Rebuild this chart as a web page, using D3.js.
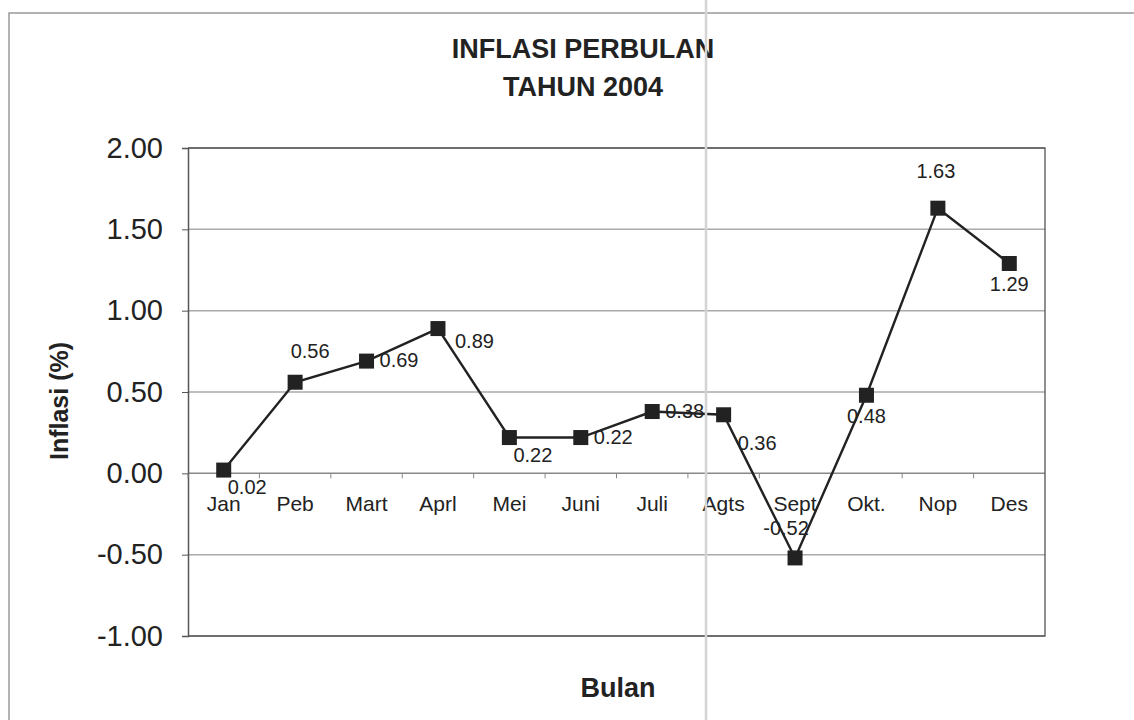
<!DOCTYPE html>
<html lang="id">
<head>
<meta charset="utf-8">
<title>Inflasi Perbulan Tahun 2004</title>
<script src="https://d3js.org/d3.v7.min.js"></script>
<style>
body { margin: 0; background: #fff; }
text { font-family: "Liberation Sans", Arial, sans-serif; fill: #222; }
</style>
</head>
<body>
<svg id="chart" width="1134" height="720"></svg>
<script>
// data
var months = ["Jan", "Peb", "Mart", "Aprl", "Mei", "Juni", "Juli", "Agts", "Sept", "Okt.", "Nop", "Des"];
var inflasi = [0.02, 0.56, 0.69, 0.89, 0.22, 0.22, 0.38, 0.36, -0.52, 0.48, 1.63, 1.29];
var yTicks = [-1.00, -0.50, 0.00, 0.50, 1.00, 1.50, 2.00];
var labelSide = ["belowRight", "aboveRight", "right", "lowRight", "belowRight", "right", "right", "farBelowRight", "aboveLeft", "below", "above", "below"];

var svg = d3.select("#chart");
var margin = {top: 148, right: 89, bottom: 84, left: 188};
var width = 1134 - margin.left - margin.right,
    height = 720 - margin.top - margin.bottom;

var fmt = function(d) { return d.toFixed(2); };

// outer chart frame (scanned page)
svg.append("path")
    .attr("d", "M9,720 L9,13 L1134,13")
    .attr("fill", "none")
    .attr("stroke", "#999")
    .attr("stroke-width", 1.5);

var g = svg.append("g")
    .attr("transform", "translate(" + margin.left + "," + margin.top + ")");

var x = d3.scalePoint()
    .domain(months)
    .range([0, width])
    .padding(0.5);

var y = d3.scaleLinear()
    .domain([-1, 2])
    .range([height, 0]);

// gridlines
g.selectAll(".grid")
    .data(yTicks)
    .enter().append("line")
    .attr("class", "grid")
    .attr("x1", 0)
    .attr("x2", width)
    .attr("y1", function(d) { return y(d); })
    .attr("y2", function(d) { return y(d); })
    .attr("stroke", function(d) { return d == 0 ? "#888" : "#aaa"; })
    .attr("stroke-width", 1.5);

// plot border
g.append("path")
    .attr("d", "M0,0 H" + width + " V" + height + " H0")
    .attr("fill", "none")
    .attr("stroke", "#555")
    .attr("stroke-width", 1.3);

// y axis
var yAxis = g.append("g")
    .call(d3.axisLeft(y).tickValues(yTicks).tickFormat(fmt).tickSize(6).tickPadding(19));
yAxis.select(".domain").attr("stroke", "#555").attr("stroke-width", 1.5);
yAxis.selectAll(".tick line").attr("stroke", "#555");
yAxis.selectAll("text")
    .style("font-size", "29px")
    .style("font-family", "Liberation Sans, Arial, sans-serif")
    .attr("fill", "#222");

// x axis sitting on zero, ticks between categories
var step = x.step();
g.selectAll(".xtick")
    .data(d3.range(months.length + 1))
    .enter().append("line")
    .attr("class", "xtick")
    .attr("x1", function(i) { return i * step; })
    .attr("x2", function(i) { return i * step; })
    .attr("y1", y(0))
    .attr("y2", y(0) + 5)
    .attr("stroke", "#888");

g.selectAll(".xlabel")
    .data(months)
    .enter().append("text")
    .attr("class", "xlabel")
    .attr("x", function(d) { return x(d); })
    .attr("y", y(0) + 38)
    .attr("text-anchor", "middle")
    .style("font-size", "21px")
    .text(function(d) { return d; });

// line and markers
var pts = months.map(function(m, i) { return {m: m, v: inflasi[i], side: labelSide[i]}; });

g.append("path")
    .datum(pts)
    .attr("fill", "none")
    .attr("stroke", "#222")
    .attr("stroke-width", 2.4)
    .attr("d", d3.line()
        .x(function(d) { return x(d.m); })
        .y(function(d) { return y(d.v); }));

g.selectAll(".marker")
    .data(pts)
    .enter().append("rect")
    .attr("class", "marker")
    .attr("x", function(d) { return x(d.m) - 7.5; })
    .attr("y", function(d) { return y(d.v) - 7.5; })
    .attr("width", 15)
    .attr("height", 15)
    .attr("fill", "#222");

// data labels
var off = {
    right:         {dx: 13,  dy: 6,   anchor: "start"},
    lowRight:      {dx: 17,  dy: 19,  anchor: "start"},
    belowRight:    {dx: 4,   dy: 24,  anchor: "start"},
    farBelowRight: {dx: 14,  dy: 35,  anchor: "start"},
    aboveRight:    {dx: 15,  dy: -24, anchor: "middle"},
    aboveLeft:     {dx: -9,  dy: -23, anchor: "middle"},
    above:         {dx: -2,  dy: -30, anchor: "middle"},
    below:         {dx: 0,   dy: 28,  anchor: "middle"}
};
g.selectAll(".dlabel")
    .data(pts)
    .enter().append("text")
    .attr("class", "dlabel")
    .attr("x", function(d) { return x(d.m) + off[d.side].dx; })
    .attr("y", function(d) { return y(d.v) + off[d.side].dy; })
    .attr("text-anchor", function(d) { return off[d.side].anchor; })
    .style("font-size", "20px")
    .text(function(d) { return fmt(d.v); });

// titles
svg.append("text")
    .attr("x", 583).attr("y", 58)
    .attr("text-anchor", "middle")
    .style("font-size", "27px").style("font-weight", "bold")
    .text("INFLASI PERBULAN");
svg.append("text")
    .attr("x", 583).attr("y", 96)
    .attr("text-anchor", "middle")
    .style("font-size", "27px").style("font-weight", "bold")
    .text("TAHUN 2004");
svg.append("text")
    .attr("x", 618).attr("y", 697)
    .attr("text-anchor", "middle")
    .style("font-size", "27px").style("font-weight", "bold")
    .text("Bulan");
svg.append("text")
    .attr("transform", "translate(68,401) rotate(-90)")
    .attr("text-anchor", "middle")
    .style("font-size", "25px").style("font-weight", "bold")
    .text("Inflasi (%)");

// scanner fold line
svg.append("line")
    .attr("x1", 706).attr("x2", 706)
    .attr("y1", 0).attr("y2", 720)
    .attr("stroke", "#d4d4d4")
    .attr("stroke-width", 2.5);
</script>
</body>
</html>
